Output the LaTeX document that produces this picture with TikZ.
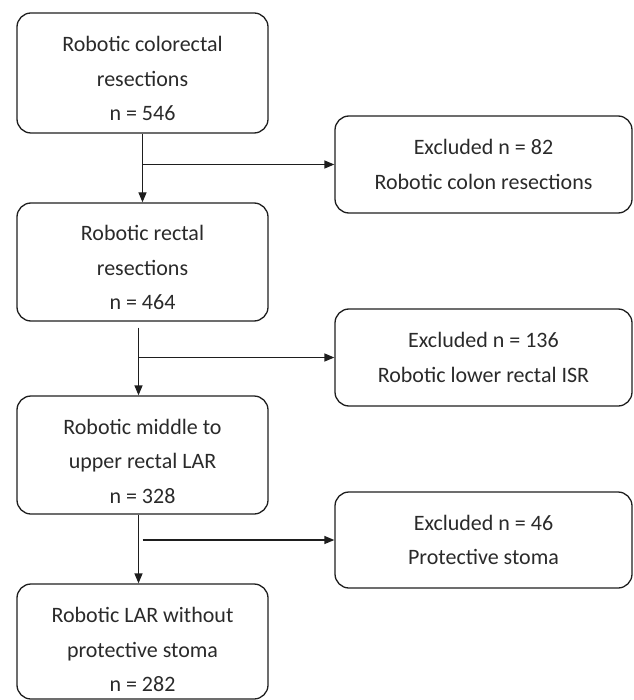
\documentclass[tikz,border=0pt]{standalone}
\usepackage{fontspec}
\setmainfont{Carlito}
\usetikzlibrary{arrows.meta}
\definecolor{txt}{HTML}{2A2A2A}
\definecolor{ln}{HTML}{1E1E1E}
\newcommand{\lowstrut}[1]{\rule{0pt}{#1}}
\begin{document}
\begin{tikzpicture}[x=1pt,y=-1pt,
  box/.style={draw=ln, line width=1.3pt, rounded corners=14pt, inner sep=0pt,
    align=center, text=txt, font=\fontsize{22}{34.5}\selectfont},
  mainbox/.style={box, minimum width=251pt},
  sidebox/.style={box, minimum width=297pt},
  conn/.style={draw=ln, line width=1.3pt, -{Triangle[length=10pt,width=8pt]}}]
\useasboundingbox (0,0) rectangle (633,700);
\node[mainbox, minimum height=120pt] (b1) at (142.5,73) {\lowstrut{27pt}Robotic colorectal\\resections\\n = 546};
\node[mainbox, minimum height=118pt] (b2) at (142.5,262) {\lowstrut{27pt}Robotic rectal\\resections\\n = 464};
\node[mainbox, minimum height=118pt] (b3) at (142.5,455) {\lowstrut{28pt}Robotic middle to\\upper rectal LAR\\n = 328};
\node[mainbox, minimum height=115pt] (b4) at (142.5,641.5) {\lowstrut{32pt}Robotic LAR without\\protective stoma\\n = 282};
\node[sidebox, minimum height=97pt] (r1) at (483.5,164.5) {Excluded n = 82\\Robotic colon resections};
\node[sidebox, minimum height=97pt] (r2) at (483.5,357.5) {Excluded n = 136\\Robotic lower rectal ISR};
\node[sidebox, minimum height=96pt] (r3) at (483.5,540) {Excluded n = 46\\Protective stoma};
% main flow
\draw[conn] (b1.south) -- (b2.north);
\draw[conn] ([xshift=-4pt,yshift=-6pt]b2.south) -- ([xshift=-4pt]b3.north);
\draw[conn] ([xshift=-4pt]b3.south) -- ([xshift=-4pt]b4.north);
% branches
\coordinate (j1) at (b1.south |- r1.west);
\coordinate (j2) at ([xshift=-4pt]b2.south |- r2.west);
\coordinate (j3) at ([xshift=0pt]b3.south |- r3.west);
\draw[conn] (j1) -- (r1.west);
\draw[conn] (j2) -- (r2.west);
\draw[conn] (j3) -- (r3.west);
\end{tikzpicture}
\end{document}
